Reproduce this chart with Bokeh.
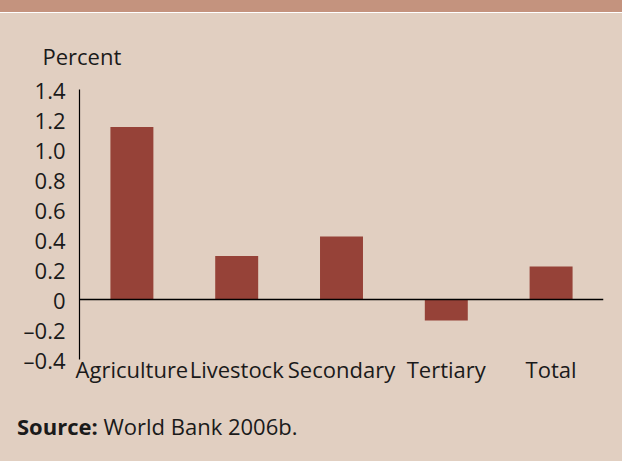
from bokeh.plotting import figure
from bokeh.models import Span, Title, Div, FixedTicker, Range1d, FactorRange
from bokeh.layouts import column
from bokeh.embed import file_html
from bokeh.resources import INLINE

categories = ["Agriculture", "Livestock", "Secondary", "Tertiary", "Total"]
values = [1.15, 0.29, 0.42, -0.14, 0.22]
y_ticks = [-0.4, -0.2, 0.0, 0.2, 0.4, 0.6, 0.8, 1.0, 1.2, 1.4]
y_tick_labels = ["\u20130.4", "\u20130.2", "0", "0.2", "0.4", "0.6", "0.8", "1.0", "1.2", "1.4"]

BG = "#E1CFC1"
BAND = "#C4937E"
BAR = "#964238"
TXT = "#1a1a1a"
FONT = "Open Sans"
FS = "22px"

p = figure(x_range=FactorRange(*categories, range_padding=0),
           y_range=Range1d(-0.4, 1.4),
           width=622, height=400, output_backend="svg", toolbar_location=None,
           min_border_left=79, min_border_right=19, min_border_top=89, min_border_bottom=41)
p.background_fill_color = BG
p.border_fill_alpha = 0
p.outline_line_color = None
p.xgrid.visible = False
p.ygrid.visible = False

p.vbar(x=categories, top=values, bottom=0, width=0.41, color=BAR, line_color=None)
p.add_layout(Span(location=0, dimension="width", line_color="black", line_width=1.5))

ya = p.yaxis[0]
ya.ticker = FixedTicker(ticks=y_ticks)
ya.major_label_overrides = {t: l for t, l in zip(y_ticks, y_tick_labels)}
ya.major_tick_line_color = None
ya.minor_tick_line_color = None
ya.axis_line_color = "black"
ya.axis_line_width = 1.2
ya.major_label_text_font = FONT
ya.major_label_text_font_size = FS
ya.major_label_text_color = TXT
ya.major_label_standoff = 8

xa = p.xaxis[0]
xa.axis_line_color = None
xa.major_tick_line_color = None
xa.minor_tick_line_color = None
xa.major_tick_out = 0
xa.major_label_standoff = -6
xa.major_label_text_font = FONT
xa.major_label_text_font_size = FS
xa.major_label_text_color = TXT

p.add_layout(Title(text="Percent", align="left", offset=-37, standoff=37,
                   text_font=FONT, text_font_size=FS, text_font_style="normal",
                   text_color=TXT), "above")

source = Div(text="<b>Source:</b> World Bank 2006b.", width=622, height=61,
             styles={"font-family": "'Open Sans'", "font-size": FS, "color": TXT,
                     "line-height": "30px", "padding-top": "11px", "padding-left": "17px",
                     "box-sizing": "border-box", "margin": "0"})

layout = column(p, source, spacing=0)
html = file_html(layout, INLINE)
css = ("<style>html,body{margin:0;padding:0;overflow:hidden;"
       "background:linear-gradient(to bottom,%s 0px,%s 12px,#ffffff 12px,#ffffff 13px,%s 13px) no-repeat,%s;}"
       "</style>") % (BAND, BAND, BG, BG)
html = html.replace("<head>", "<head>" + css, 1)
open("out.html", "w").write(html)
